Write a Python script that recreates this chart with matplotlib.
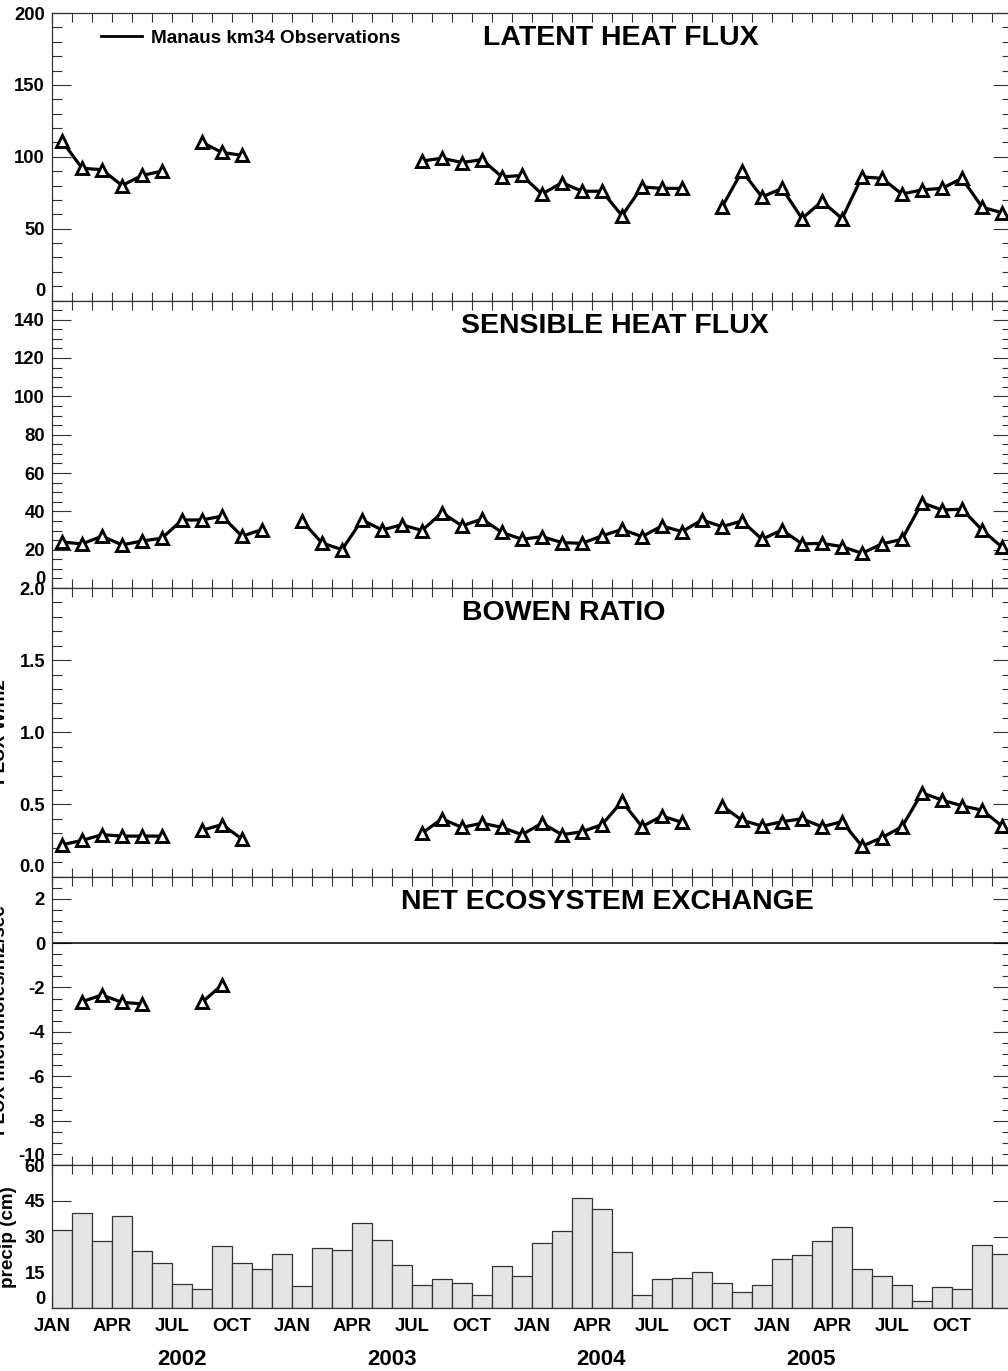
import matplotlib
matplotlib.use("Agg")
import matplotlib.pyplot as plt
import numpy as np
from matplotlib.lines import Line2D

plt.rcParams['font.family'] = ['Liberation Sans', 'DejaVu Sans']
plt.rcParams['font.weight'] = 'bold'

nan = np.nan

# --- Data: monthly values JAN 2002 .. DEC 2005 (48 months), nan = missing ---
months = np.arange(48)
month_names = ['JAN', 'APR', 'JUL', 'OCT']
years = ['2002', '2003', '2004', '2005']

latent = [111, 92, 91, 80, 87, 90, nan, 110, 103, 101, nan, nan,
          nan, nan, nan, nan, nan, nan, 97, 99, 96, 98, 86, 87,
          74, 82, 76, 76, 59, 79, 78, 78, nan, 65, 90, 72,
          78, 57, 69, 57, 86, 85, 74, 77, 78, 85, 65, 61]

sensible = [24, 23, 27, 22.5, 24.5, 26, 35.5, 35.5, 37.5, 27, 30.5, nan,
            35, 23.5, 20, 35.5, 30.3, 33, 30, 39.3, 32.4, 36, 29, 25.4,
            26.8, 23.7, 23.3, 27.2, 30.6, 26.8, 32.4, 29.4, 35.5, 32, 35, 25.4,
            30.3, 23, 23.3, 21.6, 18.1, 23, 25.4, 44.5, 40.7, 41.1, 30.3, 21.3]

bowen = [0.22, 0.25, 0.29, 0.28, 0.28, 0.28, nan, 0.32, 0.36, 0.26, nan, nan,
         nan, nan, nan, nan, nan, nan, 0.30, 0.40, 0.34, 0.37, 0.34, 0.29,
         0.37, 0.29, 0.31, 0.36, 0.52, 0.345, 0.42, 0.375, nan, 0.49, 0.39, 0.35,
         0.38, 0.40, 0.345, 0.38, 0.21, 0.27, 0.345, 0.58, 0.53, 0.49, 0.46, 0.35]

nee = [nan, -2.64, -2.34, -2.67, -2.74, nan, nan, -2.67, -1.89, nan, nan, nan] + [nan] * 36

precip = [32.8, 40, 28.2, 38.8, 24.1, 18.8, 10.2, 7.9, 26.2, 19, 16.3, 22.9,
          9.5, 25.1, 24.4, 35.7, 28.7, 18, 9.8, 12.4, 10.7, 5.7, 17.8, 13.7,
          27.2, 32.4, 46.3, 41.7, 23.7, 5.7, 12.3, 12.6, 15.3, 10.7, 7, 9.6,
          20.6, 22.2, 28.1, 33.9, 16.5, 13.7, 9.6, 3.2, 8.8, 7.9, 26.5, 22.7]

# --- Figure layout (pixel based) ---
W, H = 1008, 1371
fig = plt.figure(figsize=(W / 100, H / 100), dpi=100)
left, width = 52 / W, 960 / W
edges = [13, 300.5, 588, 876.5, 1165, 1308.3]
axes = []
for k in range(5):
    top, bot = edges[k], edges[k + 1]
    ax = fig.add_axes([left, 1 - bot / H, width, (bot - top) / H])
    axes.append(ax)

spine_c = '#333333'
x = months + 0.5
tick_fs = 13.3

def style(ax, ylim, major, minor=None, fmt='{:g}'):
    ax.set_xlim(0, 48)
    ax.set_ylim(*ylim)
    ax.set_xticks(np.arange(49))
    ax.set_xticklabels([])
    ax.tick_params(axis='x', which='both', direction='in', top=True, bottom=True,
                   length=6.5, width=0.8, color=spine_c)
    ax.set_yticks(major)
    ax.set_yticklabels([fmt.format(v) for v in major], fontsize=tick_fs, fontweight='bold')
    if minor is not None:
        ax.set_yticks(minor, minor=True)
    ax.tick_params(axis='y', which='major', direction='in', left=True, right=True,
                   length=13.7, width=0.8, color=spine_c, pad=5)
    ax.tick_params(axis='y', which='minor', direction='in', left=True, right=True,
                   length=7.2, width=0.8, color=spine_c)
    for s in ax.spines.values():
        s.set_color(spine_c)
        s.set_linewidth(0.9)
    # bottom label sits above the axis line, like the original
    if major[0] == ylim[0]:
        ax.get_yticklabels()[0].set_verticalalignment('bottom')

def series(ax, y):
    ax.plot(x, y, color='black', lw=2.3, marker='^', ms=8.8, mfc='white',
            mec='black', mew=2.1, zorder=3)

def title(ax, xpos, text):
    ax.text(xpos, 0.913, text, transform=ax.get_xaxis_transform(),
            ha='center', va='center', fontsize=20.5, fontweight='bold')

# Panel 1: latent heat flux
ax = axes[0]
style(ax, (0, 200), [0, 50, 100, 150, 200], np.arange(0, 201, 10))
series(ax, latent)
title(ax, 28.45, 'LATENT HEAT FLUX')
handle = Line2D([], [], color='black', lw=2)
ax.legend([handle], ['Manaus km34 Observations'], loc='center left',
          bbox_to_anchor=((101 - 52) / 960, (300.5 - 38) / 287.5), frameon=False,
          borderpad=0, borderaxespad=0, handlelength=2.15, handletextpad=0.52,
          prop={'size': 13.6, 'weight': 'bold'})

# Panel 2: sensible heat flux
ax = axes[1]
style(ax, (0, 150), list(range(0, 141, 20)), np.arange(0, 151, 5))
series(ax, sensible)
title(ax, 28.15, 'SENSIBLE HEAT FLUX')

# Panel 3: Bowen ratio
ax = axes[2]
style(ax, (0, 2.0), [0, 0.5, 1.0, 1.5, 2.0], np.arange(0, 2.01, 0.1), fmt='{:.1f}')
series(ax, bowen)
title(ax, 25.6, 'BOWEN RATIO')

# Panel 4: net ecosystem exchange
ax = axes[3]
style(ax, (-10, 3), list(range(-10, 3, 2)), np.arange(-10, 3.01, 0.5))
ax.axhline(0, color='black', lw=1.1, zorder=2)
series(ax, nee)
title(ax, 27.75, 'NET ECOSYSTEM EXCHANGE')

# Panel 5: precipitation bars
ax = axes[4]
style(ax, (0, 60), [0, 15, 30, 45, 60])
ax.set_axisbelow(True)
ax.bar(x, precip, width=1.0, color='#e5e5e5', edgecolor='#333333', lw=0.9)
ax.set_xticklabels([month_names[(k % 12) // 3] if (k % 3 == 0 and k < 48) else ''
                    for k in range(49)], fontsize=13.3, fontweight='bold')
ax.tick_params(axis='x', pad=7)
for xp, yr in zip([6.5, 17.0, 27.45, 37.95], years):
    ax.text(xp, -0.36, yr, transform=ax.get_xaxis_transform(), ha='center',
            va='center', fontsize=16, fontweight='bold')

# y-axis titles, partly off the left edge as in the original
ylabels = [('FLUX W/m2', 4, 156), ('FLUX W/m2', 4, 444), ('FLUX W/m2', 9, 732),
           ('FLUX micromoles/m2/sec', 9, 1020), ('precip (cm)', 17, 1237)]
for txt, xr, yc in ylabels:
    fig.text(xr / W, 1 - yc / H, txt, rotation=90, ha='right', va='center',
             fontsize=13.6, fontweight='bold')

fig.savefig('out.png', dpi=100)
